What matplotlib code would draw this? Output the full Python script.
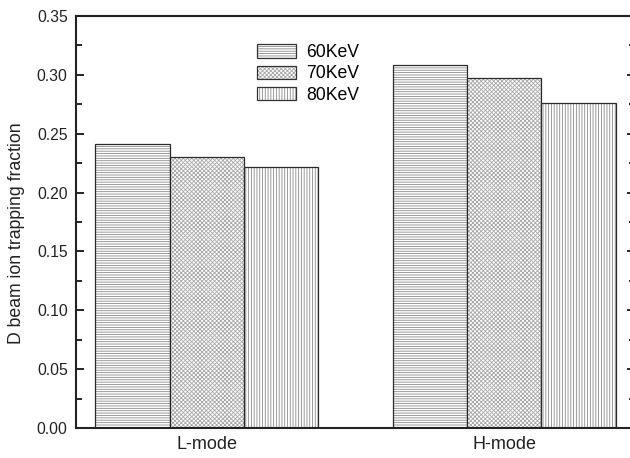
import matplotlib
matplotlib.use("Agg")
import matplotlib.pyplot as plt
from matplotlib.patches import Patch
from matplotlib.ticker import MultipleLocator, FormatStrFormatter

# values
categories = ["L-mode", "H-mode"]
energies = ["60KeV", "70KeV", "80KeV"]
frac_60 = [0.241, 0.308]
frac_70 = [0.230, 0.297]
frac_80 = [0.222, 0.276]
series = [frac_60, frac_70, frac_80]
hatches = ["-------", "xxxxxxxx", "||||||"]
hatch_colors = ["#8a8a8a", "#a8a8a8", "#8a8a8a"]

plt.rcParams["font.family"] = ["Liberation Sans", "DejaVu Sans"]
plt.rcParams["hatch.linewidth"] = 0.6

fig = plt.figure(figsize=(6.3, 4.58), dpi=100)
ax = fig.add_axes([76 / 630, 1 - 428 / 458, 559 / 630, 412 / 458])

x = [1, 2]
width = 0.25
for i, (vals, h, hc) in enumerate(zip(series, hatches, hatch_colors)):
    pos = [xi + (i - 1) * width for xi in x]
    # hatch in grey, outline in dark grey
    ax.bar(pos, vals, width, color="white", edgecolor=hc,
           hatch=h, linewidth=0)
    ax.bar(pos, vals, width, fill=False, edgecolor="#2a2a2a", linewidth=0.9)

ax.set_xlim(0.56, 2.44)
ax.set_ylim(0, 0.35)
ax.set_xticks(x)
ax.set_xticklabels(categories)
ax.yaxis.set_major_locator(MultipleLocator(0.05))
ax.yaxis.set_minor_locator(MultipleLocator(0.025))
ax.yaxis.set_major_formatter(FormatStrFormatter("%.2f"))
ax.tick_params(axis="y", which="both", direction="in", right=True,
               labelsize=11.3, labelcolor="#222222", pad=6)
ax.tick_params(axis="y", which="major", length=5.5, width=1.2)
ax.tick_params(axis="y", which="minor", length=4, width=1.2)
ax.tick_params(axis="x", length=0, labelsize=13, labelcolor="#222222", pad=6)
for s in ax.spines.values():
    s.set_linewidth(1.5)
    s.set_color("#222222")
ax.set_ylabel("D beam ion trapping fraction", fontsize=12.7, color="#222222")
ax.yaxis.set_label_coords(-0.091, 0.472)

# legend keys: grey hatch with a dark outline on top
handles = [(Patch(facecolor="white", edgecolor=hc, hatch=h, linewidth=0),
            Patch(fill=False, edgecolor="#333333", linewidth=0.9))
           for h, hc in zip(hatches, hatch_colors)]
fig.legend(handles, energies, loc="upper left",
           bbox_to_anchor=(257 / 630, 1 - 44 / 458), frameon=False,
           fontsize=12.7, handlelength=2.2, handleheight=0.8,
           labelspacing=0.25, handletextpad=0.6, borderpad=0,
           borderaxespad=0)

fig.savefig("out.png", dpi=100)
